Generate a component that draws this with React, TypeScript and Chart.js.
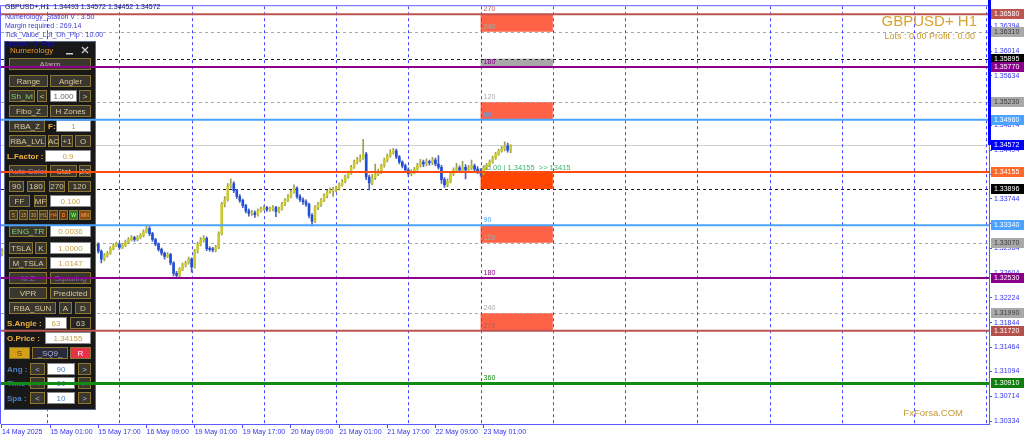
import React, { useEffect, useRef } from 'react';
import { Chart, registerables } from 'chart.js';
Chart.register(...registerables);

// ---------------- data ----------------
const symbolHeader = 'GBPUSD+,H1  1.34493 1.34572 1.34452 1.34572';
const infoLines = ['Numerology_Station V : 3.50', 'Margin required : 269.14', 'Tick_Value_Lpt_On_Pip : 10.00'];
const spreadText = 'Spread : 0  Pips';
const titleText = 'GBPUSD+ H1';
const lotsText = 'Lots : 0.00 Profit : 0.00';
const brandText = 'FxForsa.COM';

const firstOpen = 1.329;
const closes = [
  1.3294, 1.3297, 1.3291, 1.3286, 1.3282, 1.3285, 1.3279, 1.3276, 1.3282, 1.3286,
  1.3291, 1.3294, 1.3298, 1.3295, 1.3291, 1.3286, 1.3282, 1.3276, 1.3271, 1.3274,
  1.3279, 1.3285, 1.3288, 1.3291, 1.3294, 1.3297, 1.3292, 1.3288, 1.3294, 1.3298,
  1.3302, 1.3305, 1.3294, 1.3282, 1.3288, 1.3291, 1.3298, 1.3303, 1.3305, 1.33,
  1.3303, 1.3308, 1.3312, 1.3315, 1.3312, 1.3315, 1.3318, 1.3324, 1.3329, 1.3321,
  1.3312, 1.3305, 1.3297, 1.3291, 1.3286, 1.3289, 1.3276, 1.326, 1.3257, 1.3267,
  1.3273, 1.3276, 1.3282, 1.327, 1.3294, 1.3305, 1.3311, 1.3314, 1.3298, 1.3297,
  1.3296, 1.33, 1.3321, 1.3366, 1.3373, 1.3394, 1.3398, 1.3387, 1.3378, 1.3372,
  1.3364, 1.3356, 1.3352, 1.3353, 1.335, 1.3356, 1.3359, 1.3361, 1.3358, 1.3359,
  1.3361, 1.3355, 1.3359, 1.3366, 1.3372, 1.3378, 1.3385, 1.3391, 1.3378, 1.3373,
  1.337, 1.3366, 1.3349, 1.334, 1.3361, 1.3366, 1.3372, 1.3379, 1.3385, 1.3387,
  1.3388, 1.339, 1.3396, 1.3401, 1.3408, 1.3414, 1.3423, 1.3431, 1.3434, 1.3437,
  1.3443, 1.3408, 1.3399, 1.3407, 1.3413, 1.3416, 1.3425, 1.3434, 1.344, 1.3446,
  1.3448, 1.3439, 1.3431, 1.3425, 1.3419, 1.3413, 1.3416, 1.342, 1.3426, 1.3431,
  1.3428, 1.3431, 1.343, 1.3434, 1.3428, 1.3423, 1.3404, 1.3396, 1.3401, 1.3413,
  1.3419, 1.3422, 1.3419, 1.3423, 1.3419, 1.3422, 1.3425, 1.342, 1.3417, 1.3414,
  1.3422, 1.3426, 1.3431, 1.3437, 1.3443, 1.3448, 1.3451, 1.3456, 1.34493, 1.34572,
];
const highs = [
  1.3298, 1.33, 1.3299, 1.3294, 1.3289, 1.3288, 1.3287, 1.3282, 1.3285, 1.3289,
  1.3294, 1.3297, 1.3302, 1.33, 1.3297, 1.3293, 1.3288, 1.3284, 1.3278, 1.3277,
  1.3282, 1.3288, 1.3291, 1.3294, 1.3297, 1.33, 1.3299, 1.3294, 1.3296, 1.3301,
  1.3305, 1.3309, 1.3307, 1.3296, 1.3291, 1.3294, 1.3301, 1.3306, 1.3308, 1.3307,
  1.3306, 1.3311, 1.3315, 1.3318, 1.3317, 1.3318, 1.3321, 1.3327, 1.3334, 1.3332,
  1.3323, 1.3314, 1.3307, 1.3299, 1.3293, 1.3292, 1.3291, 1.3278, 1.3263, 1.3269,
  1.3276, 1.3279, 1.3285, 1.3284, 1.3297, 1.3308, 1.3315, 1.3318, 1.3316, 1.3301,
  1.33, 1.3303, 1.3324, 1.3369, 1.3378, 1.3398, 1.3405, 1.3401, 1.3389, 1.3381,
  1.3374, 1.3366, 1.3359, 1.3357, 1.3356, 1.3359, 1.3362, 1.3364, 1.3363, 1.3362,
  1.3364, 1.3363, 1.3362, 1.3369, 1.3375, 1.3381, 1.3388, 1.3396, 1.3393, 1.3381,
  1.3376, 1.3373, 1.3368, 1.3352, 1.3364, 1.3369, 1.3375, 1.3382, 1.3388, 1.3391,
  1.3392, 1.3394, 1.3399, 1.3404, 1.3411, 1.3417, 1.3426, 1.3434, 1.3438, 1.3442,
  1.3466, 1.3446, 1.3411, 1.3412, 1.3428, 1.342, 1.3428, 1.3437, 1.3443, 1.345,
  1.3452, 1.3451, 1.3441, 1.3433, 1.3428, 1.3422, 1.3419, 1.3423, 1.3429, 1.3435,
  1.3434, 1.3436, 1.3434, 1.3438, 1.3437, 1.3441, 1.3426, 1.3407, 1.3405, 1.3416,
  1.3422, 1.3429, 1.3425, 1.3432, 1.3427, 1.3426, 1.3434, 1.3428, 1.3424, 1.3421,
  1.3425, 1.3429, 1.3434, 1.344, 1.3446, 1.3451, 1.3455, 1.3462, 1.346, 1.34572,
];
const lows = [
  1.3287, 1.3291, 1.3288, 1.3283, 1.3279, 1.328, 1.3276, 1.3272, 1.3274, 1.328,
  1.3284, 1.3289, 1.3292, 1.3293, 1.3289, 1.3284, 1.3279, 1.3273, 1.3268, 1.3269,
  1.3272, 1.3277, 1.3283, 1.3286, 1.3289, 1.3292, 1.329, 1.3285, 1.3286, 1.3292,
  1.3296, 1.33, 1.3291, 1.3276, 1.3279, 1.3285, 1.3289, 1.3296, 1.3301, 1.3297,
  1.3298, 1.3301, 1.3306, 1.331, 1.3309, 1.331, 1.3313, 1.3316, 1.3322, 1.3318,
  1.3309, 1.3302, 1.3294, 1.3288, 1.3282, 1.3284, 1.3273, 1.3256, 1.3252, 1.3254,
  1.3264, 1.327, 1.3274, 1.3262, 1.3268, 1.3291, 1.3302, 1.3308, 1.3295, 1.3294,
  1.3293, 1.3293, 1.3298, 1.3319, 1.3362, 1.3371, 1.3391, 1.3384, 1.3375, 1.3369,
  1.3361, 1.3353, 1.3348, 1.3349, 1.3346, 1.3348, 1.3354, 1.3357, 1.3355, 1.3355,
  1.3356, 1.3347, 1.3353, 1.3357, 1.3364, 1.337, 1.3376, 1.3383, 1.3375, 1.337,
  1.3366, 1.3363, 1.3345, 1.3333, 1.3338, 1.3358, 1.3363, 1.337, 1.3376, 1.3383,
  1.3378, 1.3385, 1.3388, 1.3394, 1.3399, 1.3406, 1.3412, 1.3421, 1.3428, 1.3431,
  1.3435, 1.3404, 1.3388, 1.3396, 1.3404, 1.341, 1.3413, 1.3423, 1.3431, 1.3438,
  1.3443, 1.3436, 1.3428, 1.3422, 1.3416, 1.3409, 1.341, 1.3413, 1.3418, 1.3423,
  1.3424, 1.3425, 1.3426, 1.3427, 1.3425, 1.342, 1.3398, 1.3392, 1.3393, 1.3399,
  1.341, 1.3416, 1.3415, 1.3416, 1.3405, 1.3416, 1.3419, 1.3416, 1.3413, 1.3409,
  1.3411, 1.3419, 1.3424, 1.3429, 1.3435, 1.3441, 1.3446, 1.3448, 1.3446, 1.34452,
];

const timeLabels = ['14 May 2025', '15 May 01:00', '15 May 17:00', '16 May 09:00', '19 May 01:00', '19 May 17:00', '20 May 09:00', '21 May 01:00', '21 May 17:00', '22 May 09:00', '23 May 01:00'];
const timeLabelBars = [0, 16, 32, 48, 64, 80, 96, 112, 128, 144, 160];
const daySeparatorBars = [15, 39, 63, 87, 111, 135, 159, 183, 207, 231, 255, 279, 303, 327];
const priceTicks = [1.30334, 1.30714, 1.31094, 1.31464, 1.31844, 1.32224, 1.32604, 1.32984, 1.33364, 1.33744, 1.34124, 1.34494, 1.34874, 1.35254, 1.35634, 1.36014, 1.36394];

const currentPrice = 1.34572;
const solidLevels = [1.3658, 1.3577, 1.3496, 1.34155, 1.3334, 1.3253, 1.3172, 1.3091];
const dashedLevels = [1.3631, 1.35895, 1.3523, 1.33896, 1.3307, 1.3199];
const zoneHigh = [1.3658, 1.35895, 1.3523, 1.34155, 1.3334, 1.3199];
const zoneLow = [1.3631, 1.3577, 1.3496, 1.33896, 1.3307, 1.3172];
const zoneStartBar = 159;
const zoneEndBar = 183;
const gannTexts = ['270', '240', '180', '120', '90', '90', '120', '180', '240', '270', '360'];
const gannPrices = [1.3658, 1.3631, 1.3577, 1.3523, 1.3496, 1.3334, 1.3307, 1.3253, 1.3199, 1.3172, 1.3091];
const pivotText = '45.00 | 1.34155  >> 13415';
const pivotPrice = 1.34155;
const priceTags = [1.3658, 1.3631, 1.35895, 1.3577, 1.3523, 1.3496, 1.34572, 1.34155, 1.33896, 1.3334, 1.3307, 1.3253, 1.3199, 1.3172, 1.3091];

// ---------------- styles ----------------
const BROWN = '#BC544F', PURPLE = '#8B008B', SKY = '#4AA3FF', ORANGE = '#FF4A12', GREEN = '#138A13', GRAY = '#A8A8A8', BLACK = '#1E1E1E';
const solidColors = [BROWN, PURPLE, SKY, ORANGE, SKY, PURPLE, BROWN, GREEN];
const solidWidths = [2, 2, 2, 2, 2, 2, 2, 3];
const dashedColors = [GRAY, BLACK, GRAY, BLACK, GRAY, GRAY];
const zoneColors = ['#FF6347', '#A9A9A9', '#FF6347', '#FF4500', '#FF6347', '#FF6347'];
const gannColors = [BROWN, GRAY, PURPLE, GRAY, SKY, SKY, GRAY, PURPLE, GRAY, BROWN, GREEN];
const tagBg = [BROWN, '#A9A9A9', '#000000', PURPLE, '#A9A9A9', SKY, '#0000FF', '#FF6A2A', '#000000', SKY, '#A9A9A9', PURPLE, '#A9A9A9', '#B5504A', '#0E7F0E'];
const tagFg = ['#fff', '#3a3a3a', '#fff', '#fff', '#3a3a3a', '#fff', '#fff', '#fff', '#fff', '#fff', '#3a3a3a', '#fff', '#3a3a3a', '#fff', '#fff'];
const AXIS_BLUE = '#3434F0';
const FONT = '"Liberation Sans", Arial, sans-serif';

// panel widgets: [x, y, w, h, text, kind, fg, bg]
type PanelItem = [number, number, number, number, string, string, string?, string?];
const panelItems: PanelItem[] = [
  [9, 58, 82, 12, 'Alarm', 'b', '#d9a3c8'],
  [9, 75, 39, 12, 'Range', 'b'], [50, 75, 41, 12, 'Angler', 'b'],
  [9, 90, 26, 12, 'Sh_lvl', 'b', '#86d36e'], [37, 90, 10, 12, '<', 'b'], [50, 90, 27, 12, '1.000', 'i', '#666'], [79, 90, 12, 12, '>', 'b'],
  [9, 105, 39, 12, 'Fibo_Z', 'b'], [50, 105, 41, 12, 'H Zones', 'b'],
  [9, 120, 36, 12, 'RBA_Z', 'b'], [48, 120, 8, 12, 'F:', 'l', '#f0b040'], [56, 120, 35, 12, '1', 'i'],
  [9, 135, 37, 12, 'RBA_LVL', 'b'], [48, 135, 11, 12, 'AC', 'b'], [61, 135, 12, 12, '+1', 'b'], [75, 135, 16, 12, 'O', 'b'],
  [7, 150, 36, 12, 'L.Factor :', 'l', '#f0b040'], [45, 150, 46, 12, '0.9', 'i'],
  [9, 165, 38, 12, 'Auto Color', 'b', '#a88fcf'], [50, 165, 27, 12, 'Stat', 'b'], [79, 165, 12, 12, 'ZO', 'b'],
  [9, 181, 15, 11, '90', 'b'], [27, 181, 18, 11, '180', 'b'], [49, 181, 16, 11, '270', 'b'], [68, 181, 23, 11, '120', 'b'],
  [9, 195, 21, 12, 'FF', 'b'], [34, 195, 13, 12, 'MF', 'b'], [50, 195, 41, 12, '0.100', 'i'],
  [9, 210, 9, 10, '5', 's', '#c9a35a', '#4a3b1c'], [19, 210, 9, 10, '15', 's', '#c9a35a', '#4a3b1c'], [29, 210, 9, 10, '30', 's', '#c9a35a', '#4a3b1c'],
  [39, 210, 9, 10, 'H1', 's', '#c9a35a', '#4a3b1c'], [49, 210, 9, 10, 'H4', 's', '#e0923a', '#5a3a14'], [59, 210, 9, 10, 'D', 's', '#ff9a3a', '#6a3a10'],
  [69, 210, 9, 10, 'W', 's', '#c8ff90', '#2f7a22'], [79, 210, 12, 10, 'MN', 's', '#ffb060', '#8a4a12'],
  [9, 225, 38, 12, 'ENG_TR', 'b', '#86d36e'], [50, 225, 41, 12, '0.0036', 'i'],
  [9, 242, 24, 12, 'TSLA', 'b'], [35, 242, 12, 12, 'K', 'b'], [50, 242, 41, 12, '1.0000', 'i'],
  [9, 257, 38, 12, 'M_TSLA', 'b'], [50, 257, 41, 12, '1.0147', 'i'],
  [9, 272, 38, 12, 'M.Z', 'b', '#8c6aa8'], [50, 272, 41, 12, 'Squaring', 'b', '#8c6aa8'],
  [9, 287, 38, 12, 'VPR', 'b'], [50, 287, 41, 12, 'Predicted', 'b'],
  [9, 302, 47, 12, 'RBA_SUN', 'b'], [59, 302, 13, 12, 'A', 'b'], [75, 302, 16, 12, 'D', 'b'],
  [7, 317, 37, 12, 'S.Angle :', 'l', '#f0b040'], [45, 317, 22, 12, '63', 'i'], [70, 317, 21, 12, '63', 'b', '#d8c79c', '#262626'],
  [7, 332, 37, 12, 'O.Price :', 'l', '#f0b040'], [45, 332, 46, 12, '1.34155', 'i'],
  [9, 347, 21, 12, 'S', 'b', '#5a3a00', '#d4a017'], [32, 347, 36, 12, '_SQ9_', 'b', '#a8b4e0', '#2a2a36'], [70, 347, 21, 12, 'R', 'b', '#ffffff', '#e8304a'],
  [7, 363, 22, 12, 'Ang :', 'l', '#4d7fc0'], [30, 363, 15, 12, '<', 'b', '#a8b8e0'], [47, 363, 28, 12, '90', 'i', '#4d7fc0'], [78, 363, 13, 12, '>', 'b', '#a8b8e0'],
  [7, 377, 22, 12, 'Time :', 'l', '#4d7fc0'], [30, 377, 15, 12, '<', 'b', '#a8b8e0'], [47, 377, 28, 12, '00', 'i', '#4d7fc0'], [78, 377, 13, 12, '>', 'b', '#a8b8e0'],
  [7, 392, 22, 12, 'Spa :', 'l', '#4d7fc0'], [30, 392, 15, 12, '<', 'b', '#a8b8e0'], [47, 392, 28, 12, '10', 'i', '#4d7fc0'], [78, 392, 13, 12, '>', 'b', '#a8b8e0'],
];

function drawPanel(ctx: CanvasRenderingContext2D) {
  ctx.save();
  ctx.fillStyle = '#181818';
  ctx.fillRect(5, 42, 90, 367);
  ctx.strokeStyle = '#5f6b8e';
  ctx.lineWidth = 1;
  ctx.setLineDash([]);
  ctx.strokeRect(4.5, 41.5, 91, 368);
  ctx.textBaseline = 'middle';
  ctx.textAlign = 'left';
  ctx.font = `8px ${FONT}`;
  ctx.fillStyle = '#E89A2C';
  ctx.fillText('Numerology', 10, 51);
  ctx.fillStyle = '#d0d0d0';
  ctx.fillRect(66, 53, 7, 1.5);
  ctx.strokeStyle = '#d0d0d0';
  ctx.lineWidth = 1.3;
  ctx.beginPath();
  ctx.moveTo(82, 47); ctx.lineTo(88, 53); ctx.moveTo(88, 47); ctx.lineTo(82, 53);
  ctx.stroke();
  ctx.lineWidth = 1;
  for (const [x, y, w, h, t, k, fg, bg] of panelItems) {
    if (k === 'b' || k === 's') {
      ctx.fillStyle = bg || '#3a372f';
      ctx.fillRect(x, y, w, h);
      ctx.strokeStyle = '#8d7532';
      ctx.strokeRect(x + 0.5, y + 0.5, w - 1, h - 1);
      ctx.fillStyle = fg || '#d8c79c';
      ctx.font = k === 's' ? `5px ${FONT}` : `8px ${FONT}`;
      ctx.textAlign = 'center';
      ctx.fillText(t, x + w / 2, y + h / 2 + 0.5);
    } else if (k === 'i') {
      ctx.fillStyle = '#ffffff';
      ctx.fillRect(x, y, w, h);
      ctx.strokeStyle = '#8a8a8a';
      ctx.strokeRect(x + 0.5, y + 0.5, w - 1, h - 1);
      ctx.fillStyle = fg || '#c9a048';
      ctx.font = `8px ${FONT}`;
      ctx.textAlign = 'center';
      ctx.fillText(t, x + w / 2, y + h / 2 + 0.5);
    } else {
      ctx.fillStyle = fg || '#f0b040';
      ctx.font = `bold 8px ${FONT}`;
      ctx.textAlign = 'left';
      ctx.fillText(t, x, y + h / 2 + 0.5);
    }
  }
  ctx.restore();
}

const opens = closes.map((c, i) => (i === 0 ? firstOpen : closes[i - 1]));

const overlayPlugin = {
  id: 'mtOverlay',
  beforeDatasetsDraw(chart: any) {
    const { ctx, chartArea: a, scales } = chart;
    const xs = scales.x, ys = scales.y;
    ctx.save();
    ctx.beginPath();
    ctx.rect(a.left, a.top, a.right - a.left, a.bottom - a.top);
    ctx.clip();
    // zones
    const zx0 = xs.getPixelForValue(zoneStartBar), zx1 = xs.getPixelForValue(zoneEndBar);
    zoneHigh.forEach((hv, k) => {
      const y0 = ys.getPixelForValue(hv), y1 = ys.getPixelForValue(zoneLow[k]);
      ctx.fillStyle = zoneColors[k];
      ctx.fillRect(zx0, y0, zx1 - zx0, y1 - y0);
    });
    // current price line
    const cp = Math.round(ys.getPixelForValue(currentPrice)) + 0.5;
    ctx.strokeStyle = '#D0D0D0';
    ctx.lineWidth = 1;
    ctx.beginPath(); ctx.moveTo(a.left, cp); ctx.lineTo(a.right, cp); ctx.stroke();
    // dashed levels
    ctx.setLineDash([3, 3]);
    dashedLevels.forEach((v, k) => {
      const py = Math.round(ys.getPixelForValue(v)) + 0.5;
      ctx.strokeStyle = dashedColors[k];
      ctx.beginPath(); ctx.moveTo(a.left, py); ctx.lineTo(a.right, py); ctx.stroke();
    });
    // day separators
    ctx.strokeStyle = '#4646FF';
    daySeparatorBars.forEach((b) => {
      const px = Math.round(xs.getPixelForValue(b)) + 0.5;
      ctx.beginPath(); ctx.moveTo(px, a.top); ctx.lineTo(px, a.bottom); ctx.stroke();
    });
    ctx.setLineDash([]);
    // gann labels
    ctx.font = `7px ${FONT}`;
    ctx.textAlign = 'left';
    ctx.textBaseline = 'alphabetic';
    gannTexts.forEach((t, k) => {
      ctx.fillStyle = gannColors[k];
      ctx.fillText(t, zx0 + 3, ys.getPixelForValue(gannPrices[k]) - 3);
    });
    ctx.fillStyle = '#3CB371';
    ctx.font = `7.5px ${FONT}`;
    ctx.fillText(pivotText, zx0 + 2, ys.getPixelForValue(pivotPrice) - 2);
    ctx.restore();
  },
  afterDraw(chart: any) {
    const { ctx, chartArea: a, scales } = chart;
    const xs = scales.x, ys = scales.y;
    drawPanel(ctx);
    ctx.save();
    // solid levels over everything
    solidLevels.forEach((v, k) => {
      const py = ys.getPixelForValue(v);
      ctx.strokeStyle = solidColors[k];
      ctx.lineWidth = solidWidths[k];
      ctx.beginPath(); ctx.moveTo(a.left, py); ctx.lineTo(a.right, py); ctx.stroke();
    });
    // frame
    ctx.lineWidth = 1;
    ctx.strokeStyle = '#5a5aff';
    ctx.beginPath(); ctx.moveTo(0, a.top - 0.5); ctx.lineTo(a.right, a.top - 0.5); ctx.stroke();
    ctx.beginPath(); ctx.moveTo(a.left - 0.5, a.top); ctx.lineTo(a.left - 0.5, a.bottom); ctx.stroke();
    // thick blue segment on the price axis down to current price
    ctx.fillStyle = '#0000FF';
    ctx.fillRect(a.right - 1, 0, 3, ys.getPixelForValue(currentPrice));
    // texts
    ctx.textAlign = 'left';
    ctx.textBaseline = 'middle';
    ctx.font = `7px ${FONT}`;
    ctx.fillStyle = '#14145a';
    ctx.fillText(symbolHeader, 5, 7);
    ctx.fillStyle = '#3a3ad8';
    infoLines.forEach((t, k) => ctx.fillText(t, 5, 17 + k * 9));
    ctx.fillStyle = '#1010b0';
    ctx.fillText(spreadText, 5, 44);
    ctx.textAlign = 'right';
    ctx.fillStyle = '#D9A22C';
    ctx.font = `15px ${FONT}`;
    ctx.fillText(titleText, 977, 22);
    ctx.font = `9px ${FONT}`;
    ctx.fillStyle = '#C9992E';
    ctx.fillText(lotsText, 975, 37);
    ctx.font = `9.5px ${FONT}`;
    ctx.fillText(brandText, 963, 413);
    // price tags on the axis
    ctx.textAlign = 'left';
    ctx.font = `7px ${FONT}`;
    priceTags.forEach((v, k) => {
      const py = Math.round(ys.getPixelForValue(v));
      ctx.fillStyle = tagBg[k];
      ctx.fillRect(a.right + 2, py - 5, 33, 10);
      ctx.fillStyle = tagFg[k];
      ctx.fillText(v.toFixed(5), a.right + 5, py + 0.5);
    });
    ctx.restore();
  },
};

export default function App() {
  const ref = useRef<HTMLCanvasElement>(null);
  useEffect(() => {
    document.body.style.margin = '0';
    const bull = closes.map((c, i) => c >= opens[i]);
    const bodyData = closes.map((c, i) => ({ x: i, y: [Math.min(opens[i], c), Math.max(opens[i], c)] }));
    const wickData = closes.map((_, i) => ({ x: i, y: [lows[i], highs[i]] }));
    const chart = new Chart(ref.current!, {
      type: 'bar',
      data: {
        datasets: [
          {
            label: 'wick',
            data: wickData as any,
            backgroundColor: bull.map((b) => (b ? '#9c9c55' : '#4f5fc0')),
            barThickness: 1,
            grouped: false,
            order: 2,
            borderWidth: 0,
          } as any,
          {
            label: 'body',
            data: bodyData as any,
            backgroundColor: bull.map((b) => (b ? '#CACA2E' : '#1F4FD6')),
            barThickness: 2,
            minBarLength: 1,
            grouped: false,
            order: 1,
            borderWidth: 0,
          } as any,
        ],
      },
      options: {
        responsive: false,
        devicePixelRatio: 1,
        animation: false,
        layout: { padding: { top: 3, left: 1, right: 0, bottom: 0 } },
        plugins: { legend: { display: false }, tooltip: { enabled: false } },
        scales: {
          x: {
            type: 'linear',
            min: -0.332,
            max: 327.9,
            offset: false,
            afterBuildTicks: (s: any) => { s.ticks = timeLabelBars.map((v) => ({ value: v })); },
            afterFit: (s: any) => { s.height = 15; },
            ticks: {
              autoSkip: false,
              maxRotation: 0,
              align: 'start',
              padding: 0,
              color: AXIS_BLUE,
              font: { family: 'Liberation Sans', size: 7 },
              callback: (v: any) => { const k = timeLabelBars.indexOf(Number(v)); return k >= 0 ? timeLabels[k] : ''; },
            },
            grid: { display: true, drawOnChartArea: false, drawTicks: true, tickLength: 4, color: '#4a4aff', offset: false },
            border: { display: true, color: '#5a5aff' },
          },
          y: {
            type: 'linear',
            position: 'right',
            min: 1.30288,
            max: 1.36702,
            afterBuildTicks: (s: any) => { s.ticks = priceTicks.map((v) => ({ value: v })); },
            afterFit: (s: any) => { s.width = 35; },
            ticks: {
              autoSkip: false,
              padding: 2,
              color: AXIS_BLUE,
              font: { family: 'Liberation Sans', size: 7 },
              callback: (v: any) => Number(v).toFixed(5),
            },
            grid: { display: true, drawOnChartArea: false, drawTicks: true, tickLength: 3, color: '#4a4aff' },
            border: { display: true, color: '#5a5aff' },
          },
        },
      } as any,
      plugins: [overlayPlugin],
    });
    return () => chart.destroy();
  }, []);
  return (
    <div style={{ width: 1024, height: 439, background: '#fff' }}>
      <canvas ref={ref} width={1024} height={439} style={{ display: 'block' }} />
    </div>
  );
}
